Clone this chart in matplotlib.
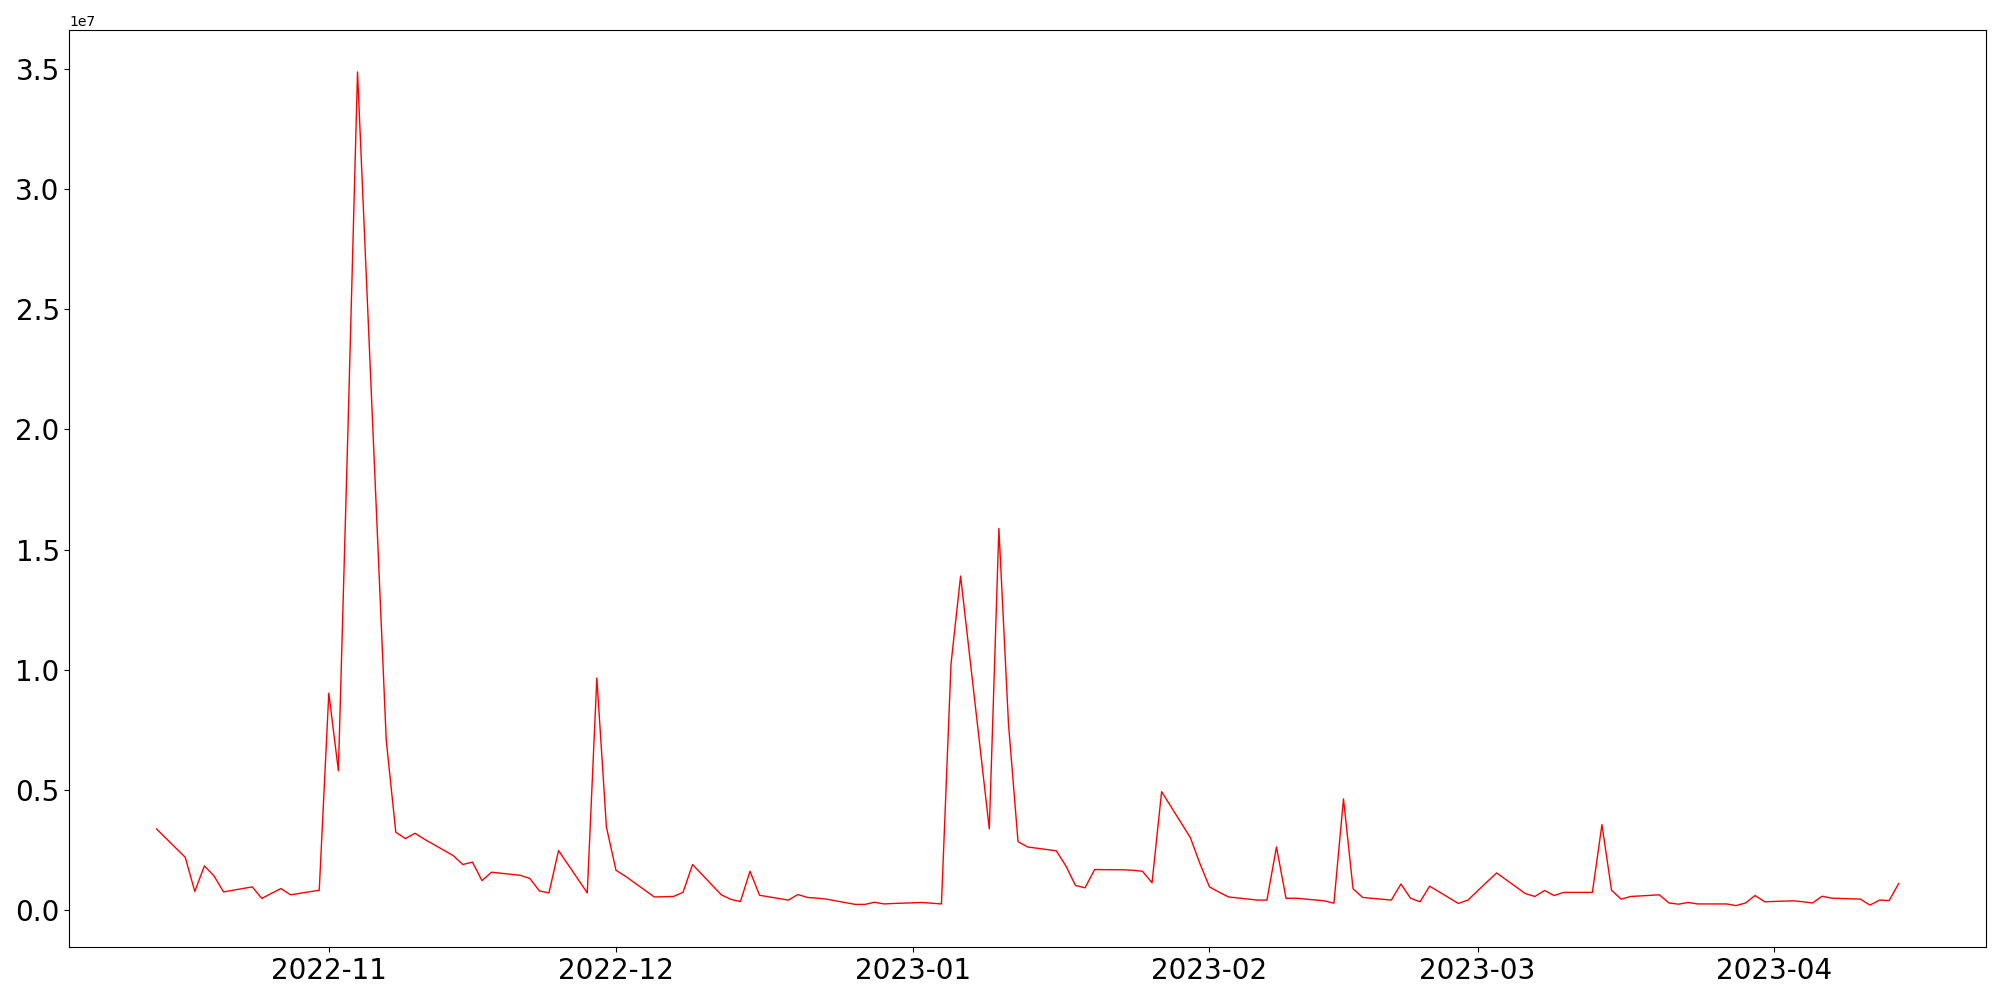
import matplotlib
matplotlib.use("Agg")
import matplotlib.pyplot as plt
import pandas as pd
import numpy as np

# weekday values, in millions, month by month
oct_22 = [3.38, 2.20, 0.78, 1.84, 1.43, 0.76, 0.97, 0.49, 0.70, 0.90, 0.64, 0.83]
nov_22 = [9.03, 5.80, 20.0, 34.87,
          7.07, 3.24, 2.98, 3.20, 2.95,
          2.27, 1.90, 2.00, 1.23, 1.58,
          1.45, 1.32, 0.80, 0.72, 2.48,
          0.72, 9.66, 3.46]
dec_22 = [1.66, 1.41,
          0.55, 0.56, 0.57, 0.74, 1.90,
          0.64, 0.45, 0.36, 1.62, 0.62,
          0.42, 0.65, 0.53, 0.50, 0.46,
          0.24, 0.24, 0.33, 0.26, 0.28]
jan_23 = [0.32, 0.29, 0.26, 10.25, 13.9,
          3.38, 15.88, 7.77, 2.85, 2.63,
          2.47, 1.84, 1.03, 0.93, 1.69,
          1.68, 1.66, 1.62, 1.14, 4.93,
          3.02, 1.94]
feb_23 = [0.97, 0.75, 0.55,
          0.42, 0.42, 2.63, 0.49, 0.50,
          0.39, 0.29, 4.63, 0.89, 0.53,
          0.42, 1.09, 0.50, 0.35, 1.00,
          0.28, 0.42]
mar_23 = [0.80, 1.18, 1.55,
          0.69, 0.57, 0.82, 0.61, 0.74,
          0.74, 3.56, 0.83, 0.46, 0.57,
          0.64, 0.30, 0.25, 0.32, 0.26,
          0.26, 0.19, 0.30, 0.61, 0.35]
apr_23 = [0.39, 0.35, 0.30, 0.58, 0.50,
          0.46, 0.21, 0.42, 0.40, 1.11]

dates = pd.bdate_range("2022-10-14", "2023-04-14")
values = np.array(oct_22 + nov_22 + dec_22 + jan_23 + feb_23 + mar_23 + apr_23) * 1e6

fig, ax = plt.subplots(figsize=(20, 10), dpi=100)
ax.plot(dates, values, color='red', linewidth=1)
ax.tick_params(axis='both', labelsize=20)
fig.subplots_adjust(left=0.0347, right=0.9929, bottom=0.0527, top=0.9697)
fig.savefig("out.png")
